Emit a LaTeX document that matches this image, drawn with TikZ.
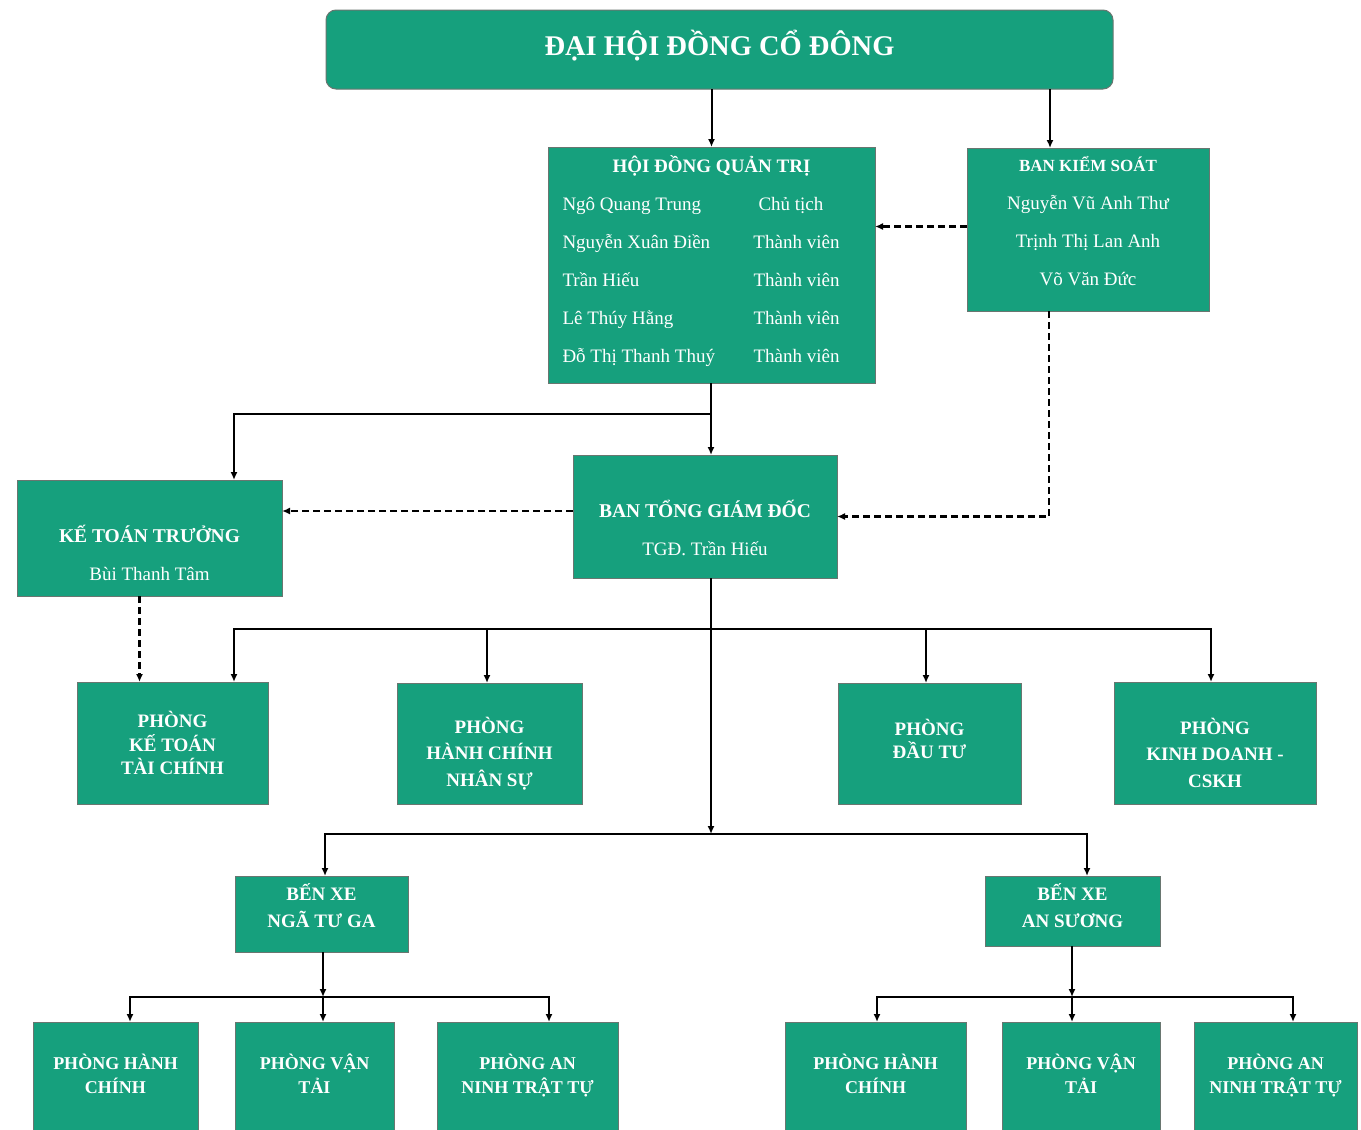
\documentclass[tikz,border=0pt]{standalone}
\usepackage{fontspec}
\setmainfont{Liberation Serif}
\usetikzlibrary{arrows.meta,positioning,calc}
\definecolor{orgteal}{RGB}{22,160,125}
\definecolor{orgedge}{RGB}{105,118,112}
\newcommand{\headfont}[1]{\fontsize{#1}{38}\selectfont\bfseries}
\newcommand{\namefont}{\fontsize{19}{38}\selectfont}
\newcommand{\lift}[1]{\rule[-#1pt]{0pt}{0pt}}

\begin{document}
\begin{tikzpicture}[x=1pt,y=-1pt,>={Latex[length=8pt,width=7pt]},
  box/.style={draw=orgedge,line width=1pt,fill=orgteal,text=white,inner sep=0pt,outer sep=0pt,align=center},
  dept/.style={box,font=\fontsize{19}{24}\selectfont\bfseries},
  unit/.style={box,font=\fontsize{18}{24}\selectfont\bfseries,minimum height=108pt},
  link/.style={->,line width=2pt},
  dlink/.style={->,line width=2.6pt,dash pattern=on 7pt off 4pt},
  busline/.style={->,line width=2.6pt}]
  \useasboundingbox[fill=white] (0,0) rectangle (1361,1130);

  \node[box,rounded corners=10pt,minimum width=787pt,minimum height=79pt,font=\fontsize{28.5}{30}\selectfont\bfseries] (dhdcd) at (719.5,49.5) {ĐẠI HỘI ĐỒNG CỔ ĐÔNG\lift{14}};

  \node[box,minimum width=327pt,minimum height=236pt,font=\namefont] (hdqt) at (711.5,265) {%
    {\headfont{19}HỘI ĐỒNG QUẢN TRỊ}\\
    \begin{tabular}[t]{@{}p{191pt}@{}l@{}}
      Ngô Quang Trung & \hspace{5pt}Chủ tịch\\
      Nguyễn Xuân Điền & Thành viên\\
      Trần Hiếu & Thành viên\\
      Lê Thúy Hằng & Thành viên\\
      Đỗ Thị Thanh Thuý & Thành viên
    \end{tabular}\hspace*{21pt}};

  \node[box,minimum width=242pt,minimum height=163pt,font=\namefont] (bks) at (1088,229.5) {%
    {\headfont{17}BAN KIỂM SOÁT}\\ Nguyễn Vũ Anh Thư\\ Trịnh Thị Lan Anh\\ Võ Văn Đức\lift{18}};

  \node[box,minimum width=265pt,minimum height=116pt,font=\namefont] (ktt) at (149.5,538) {%
    {\headfont{19.5}\rule{0pt}{47pt}KẾ TOÁN TRƯỞNG}\\ Bùi Thanh Tâm};
  \node[box,minimum width=264pt,minimum height=123pt,font=\namefont] (btgd) at (705,516.5) {%
    {\headfont{19.5}\rule{0pt}{41pt}BAN TỔNG GIÁM ĐỐC}\\ TGĐ. Trần Hiếu};

  \node[dept,font=\fontsize{19}{23.5}\selectfont\bfseries,minimum width=191pt,minimum height=122pt] (kttc) at (172.5,743) {PHÒNG\\KẾ TOÁN\\TÀI CHÍNH};
  \node[dept,font=\fontsize{19}{26.5}\selectfont\bfseries,minimum width=185pt,minimum height=121pt] (hcns) at (489.5,743.5) {\rule{0pt}{36pt}PHÒNG\\HÀNH CHÍNH\\NHÂN SỰ};
  \node[dept,font=\fontsize{19}{23}\selectfont\bfseries,minimum width=183pt,minimum height=121pt] (dautu) at (929.5,743.5) {PHÒNG\\ĐẦU TƯ\lift{10}};
  \node[dept,font=\fontsize{19}{26.5}\selectfont\bfseries,minimum width=202pt,minimum height=122pt] (kdcskh) at (1215,743) {\rule{0pt}{36pt}PHÒNG\\KINH DOANH -\\CSKH};

  \node[dept,font=\fontsize{19}{27}\selectfont\bfseries,minimum width=173pt,minimum height=76pt] (bxntg) at (321.5,914) {BẾN XE\\NGÃ TƯ GA\lift{16}};
  \node[dept,font=\fontsize{19}{27}\selectfont\bfseries,minimum width=175pt,minimum height=70pt] (bxas) at (1072.5,911) {BẾN XE\\AN SƯƠNG\lift{10}};

  \node[unit,minimum width=165pt] (ntghc) at (115.5,1076) {PHÒNG HÀNH\\CHÍNH\lift{4}};
  \node[unit,minimum width=159pt] (ntgvt) at (314.5,1076) {PHÒNG VẬN\\TẢI\lift{4}};
  \node[unit,minimum width=181pt] (ntgan) at (527.5,1076) {PHÒNG AN\\NINH TRẬT TỰ};
  \node[unit,minimum width=181pt] (ashc) at (875.5,1076) {PHÒNG HÀNH\\CHÍNH\lift{4}};
  \node[unit,minimum width=158pt] (asvt) at (1081,1076) {PHÒNG VẬN\\TẢI\lift{4}};
  \node[unit,minimum width=163pt] (asan) at (1275.5,1076) {PHÒNG AN\\NINH TRẬT TỰ};

  \coordinate (split) at (711,414);
  \coordinate (busdept) at (711,629);
  \coordinate (busbx) at (711,834);
  \coordinate (busntg) at (323,997);
  \coordinate (busas) at (1072,997);

  \draw[link] (dhdcd.south -| hdqt.north) -- (hdqt.north);
  \draw[link] ([xshift=-38pt]bks.north |- dhdcd.south) -- ([xshift=-38pt]bks.north);
  \draw[dlink] ([yshift=3pt]bks.west) -- ([yshift=3pt]bks.west -| hdqt.east);
  \draw[link] (hdqt.south -| split) -- (split) -| ($(ktt.north)+(84.5,0)$);
  \draw[link] (split) -- (split |- btgd.north);
  \draw[dlink] ([xshift=-39pt]bks.south) |- (btgd.east);
  \draw[dlink] ([yshift=5.5pt]btgd.west) -- ([yshift=5.5pt]btgd.west -| ktt.east);
  \draw[dlink] ([xshift=-10pt]ktt.south) -- ([xshift=-10pt]ktt.south |- kttc.north);

  \draw[link] (btgd.south -| busdept) -- (busbx);
  \draw[link] (busdept) -| ($(kttc.north)+(61.5,0)$);
  \draw[link] (busdept) -| ([xshift=-2.5pt]hcns.north);
  \draw[link] (busdept) -| ([xshift=-3.5pt]dautu.north);
  \draw[link] (busdept) -| ([xshift=-4pt]kdcskh.north);
  \draw[link] (busbx) -| ([xshift=3.5pt]bxntg.north);
  \draw[link] (busbx) -| ([xshift=14.5pt]bxas.north);

  \draw[link] (bxntg.south -| busntg) -- (busntg);
  \draw[busline] (busntg) -| ([xshift=14.5pt]ntghc.north);
  \draw[busline] (busntg) -| ([xshift=21.5pt]ntgan.north);
  \draw[link] (busntg) -- (busntg |- ntgvt.north);
  \draw[link] (bxas.south -| busas) -- (busas);
  \draw[busline] (busas) -| ([xshift=1.5pt]ashc.north);
  \draw[busline] (busas) -| ([xshift=17.5pt]asan.north);
  \draw[link] (busas) -- (busas |- asvt.north);
\end{tikzpicture}
\end{document}
